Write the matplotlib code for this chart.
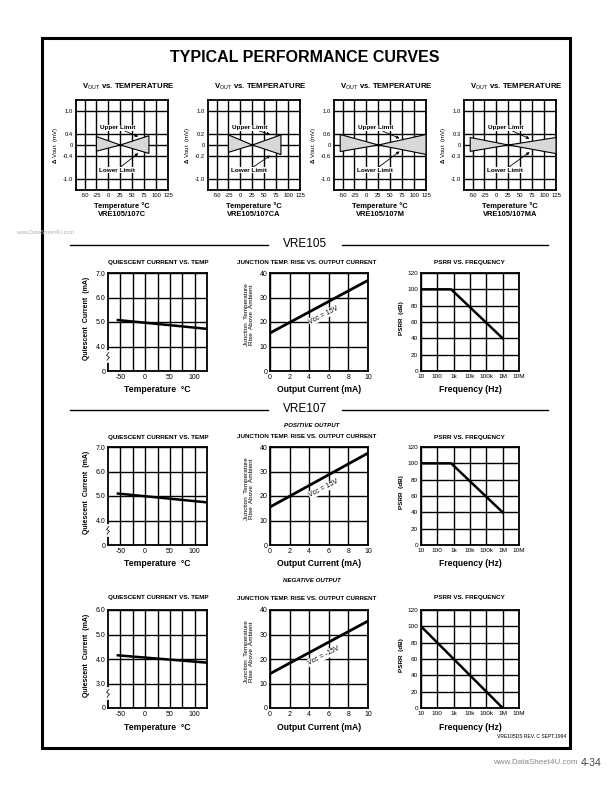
import matplotlib
matplotlib.use("Agg")
import matplotlib.pyplot as plt
from matplotlib.patches import Rectangle
import numpy as np

plt.rcParams['font.family'] = ['Liberation Sans', 'DejaVu Sans']
plt.rcParams['mathtext.fontset'] = 'custom'
plt.rcParams['mathtext.rm'] = 'Liberation Sans'
plt.rcParams['mathtext.bf'] = 'Liberation Sans:bold'
plt.rcParams['axes.unicode_minus'] = False

W, H = 612, 792

#
# data
#

# top row: Vout limit bands vs temperature (mV)
grades = ["VRE105/107C", "VRE105/107CA", "VRE105/107M", "VRE105/107MA"]
band_temp = [[-25, 25, 85], [-25, 25, 85], [-55, 25, 125], [-55, 25, 125]]
band_upper = [[0.30, 0.0, 0.33], [0.18, 0.0, 0.18], [0.56, 0.0, 0.56], [0.20, 0.0, 0.20]]
band_lower = [[-0.22, 0.0, -0.30], [-0.13, 0.0, -0.17], [-0.35, 0.0, -0.50], [-0.17, 0.0, -0.23]]
inner_tick = [0.4, 0.2, 0.6, 0.3]
temp_ticks = [-50, -25, 0, 25, 50, 75, 100, 125]

# quiescent current (mA) vs temperature
q_temp = [-55, 125]
q_105 = [5.08, 4.72]
q_107p = [5.10, 4.74]
q_107n = [4.15, 3.85]
q_ticks_pos = [4.0, 5.0, 6.0, 7.0]
q_ticks_neg = [3.0, 4.0, 5.0, 6.0]

# junction temp rise vs output current
i_out = [0, 10]
tj_105 = [15.5, 37.0]
tj_107p = [15.5, 37.5]
tj_107n = [14.0, 35.5]

# PSRR vs frequency
f_pos = [10, 700, 1e6]
psrr_pos = [100, 100, 40]
f_neg = [10, 1e6]
psrr_neg = [100, 0]
f_ticks = [10, 100, 1e3, 1e4, 1e5, 1e6, 1e7]
f_labels = ["10", "100", "1k", "10k", "100k", "1M", "10M"]

fig = plt.figure(figsize=(W/100, H/100), dpi=100)

def add_ax(x0, y0, x1, y1):
	return fig.add_axes([x0/W, 1-y1/H, (x1-x0)/W, (y1-y0)/H])

def ftext(x, y, s, **kw):
	kw.setdefault('ha', 'center')
	kw.setdefault('va', 'center')
	return fig.text(x/W, 1-y/H, s, **kw)

def style(ax, fs):
	for s in ax.spines.values():
		s.set_linewidth(1.3)
	ax.tick_params(which='both', length=0, pad=2, labelsize=fs)
	ax.grid(True, which='both', color='k', lw=1.0)

# border + title
fig.add_artist(Rectangle((42/W, 1-748/H), (570-42)/W, (748-38)/H, fill=False,
	lw=2.2, color='k', transform=fig.transFigure))
ftext(305, 58, "TYPICAL PERFORMANCE CURVES", fontsize=11.5, weight='bold')

#
# top row
#
top_x = [(76, 168), (208, 300), (334, 426), (464, 556)]
for k in range(4):
	x0, x1 = top_x[k]
	ax = add_ax(x0, 100, x1, 190)
	s = inner_tick[k]
	xp = [-1.4, -1.0, -s, 0, s, 1.0, 1.4]
	fp = [-4, -3, -1, 0, 1, 3, 4]
	ax.set_yscale('function', functions=(lambda v, xp=xp, fp=fp: np.interp(v, xp, fp),
		lambda v, xp=xp, fp=fp: np.interp(v, fp, xp)))
	ax.set_ylim(-1.4, 1.4)
	ax.set_xlim(-68, 125)
	ax.set_yticks([-1.0, -s, 0, s, 1.0])
	ax.set_yticklabels(["-1.0", "-%.1f" % s, "0", "%.1f" % s, "1.0"])
	ax.set_xticks(temp_ticks)
	ax.set_xticklabels([str(t) for t in temp_ticks])
	ax.minorticks_off()
	style(ax, 4.2)
	t, u, l = band_temp[k], band_upper[k], band_lower[k]
	px = [t[0], t[1], t[2], t[2], t[1], t[0]]
	py = [u[0], u[1], u[2], l[2], l[1], l[0]]
	ax.fill(px, py, facecolor='#d8d8d8', edgecolor='k', lw=0.8, zorder=3)
	# arrow tips on the limit lines, right side
	xt = 65 if k < 2 else 72
	yu = np.interp(xt, t[1:], u[1:])
	yl = np.interp(xt, t[1:], l[1:])
	ap = dict(arrowstyle='-|>', lw=0.6, color='k', mutation_scale=4, shrinkA=0, shrinkB=1)
	bb = dict(boxstyle='square,pad=0.1', fc='white', ec='none')
	ax.annotate("Upper Limit", xy=(xt, yu + 0.06), xytext=(0.45, 0.69), textcoords='axes fraction',
		fontsize=4.6, weight='bold', ha='center', va='center', arrowprops=ap, bbox=bb, zorder=5)
	ax.annotate("Lower Limit", xy=(xt, yl - 0.06), xytext=(0.44, 0.22), textcoords='axes fraction',
		fontsize=4.6, weight='bold', ha='center', va='center', arrowprops=ap, bbox=bb, zorder=5)
	cx = (x0 + x1)/2
	ftext(cx + 6, 87, r"V$_{\rm OUT}$ vs. TEMPERATURE", fontsize=5.6, weight='bold')
	ftext(cx, 206, "Temperature °C", fontsize=5.4, weight='bold')
	ftext(cx, 214, grades[k], fontsize=5.4, weight='bold')
	ftext(x0 - 21, 145, r"$\mathbf{\Delta}$ Vout  (mV)", fontsize=4.4, rotation=90)

# section separators
def section(y, label):
	fig.add_artist(plt.Line2D([70/W, 268/W], [1-y/H, 1-y/H], color='k', lw=1.0))
	fig.add_artist(plt.Line2D([342/W, 548/W], [1-y/H, 1-y/H], color='k', lw=1.0))
	ftext(305, y - 1, label, fontsize=8.5)

section(245, "VRE105")
section(410, "VRE107")
ftext(45, 232, "www.DataSheet4U.com", fontsize=4, color='#b0b0b0')

#
# lower rows
#
def quiescent(top, yvals, yticks, title_y):
	ax = add_ax(108, top, 207, top + 98)
	ax.set_xlim(-75, 125)
	ax.set_ylim(yticks[0] - 1, yticks[-1])
	ax.set_xticks([-50, 0, 50, 100])
	ax.set_xticks([-25, 25, 75], minor=True)
	ax.set_yticks([yticks[0] - 1] + yticks)
	ax.set_yticklabels(["0"] + ["%.1f" % v for v in yticks])
	style(ax, 5)
	ax.plot(q_temp, yvals, color='k', lw=1.8, zorder=4)
	# axis break mark
	ax.plot([0, 0], [0.1, 0.2], transform=ax.transAxes, color='white', lw=2, clip_on=False, zorder=6)
	ax.plot([-0.01, 0.015, -0.015, 0.01], [0.11, 0.14, 0.16, 0.19], transform=ax.transAxes,
		color='k', lw=0.5, clip_on=False, zorder=7)
	ftext(158, title_y, "QUIESCENT CURRENT VS. TEMP", fontsize=4.6, weight='bold')
	ftext(157, top + 117, "Temperature  °C", fontsize=6.2, weight='bold')
	ftext(87, top + 45, "Quiescent  Current  (mA)", fontsize=5, weight='bold', rotation=90)

def junction(top, yvals, label, title_y):
	ax = add_ax(270, top, 368, top + 98)
	ax.set_xlim(0, 10)
	ax.set_ylim(0, 40)
	ax.set_xticks([0, 2, 4, 6, 8, 10])
	ax.set_yticks([0, 10, 20, 30, 40])
	style(ax, 5)
	ax.plot(i_out, yvals, color='k', lw=2.0, zorder=4)
	ax.text(5.5, np.interp(5.5, i_out, yvals) - 4.5, label, fontsize=5, rotation=27,
		ha='center', va='center', zorder=5,
		bbox=dict(boxstyle='square,pad=0.1', fc='white', ec='none'))
	ftext(307, title_y, "JUNCTION TEMP. RISE VS. OUTPUT CURRENT", fontsize=4.5, weight='bold')
	ftext(319, top + 117, "Output Current (mA)", fontsize=6.2, weight='bold')
	ftext(249, top + 42, "Junction  Temperature\nRise  Above  Ambient", fontsize=4.6,
		rotation=90, linespacing=1.0)

def psrr(top, fx, yvals, title_y):
	ax = add_ax(421, top, 519, top + 98)
	ax.set_xscale('log')
	ax.set_xlim(10, 1e7)
	ax.set_ylim(0, 120)
	ax.set_xticks(f_ticks)
	ax.set_xticklabels(f_labels)
	ax.minorticks_off()
	ax.set_yticks([0, 20, 40, 60, 80, 100, 120])
	style(ax, 4.6)
	ax.plot(fx, yvals, color='k', lw=1.8, zorder=4)
	ftext(469, title_y, "PSRR VS. FREQUENCY", fontsize=4.6, weight='bold')
	ftext(470, top + 117, "Frequency (Hz)", fontsize=6.2, weight='bold')
	ftext(402, top + 45, "PSRR  (dB)", fontsize=4.6, weight='bold', rotation=90)

quiescent(273, q_105, q_ticks_pos, 262)
junction(273, tj_105, "Vcc = 15V", 262)
psrr(273, f_pos, psrr_pos, 262)

ftext(312, 425, "POSITIVE OUTPUT", fontsize=4.4, weight='bold', style='italic')
quiescent(447, q_107p, q_ticks_pos, 437)
junction(447, tj_107p, "Vcc = 15V", 437)
psrr(447, f_pos, psrr_pos, 437)

ftext(312, 581, "NEGATIVE OUTPUT", fontsize=4.4, weight='bold', style='italic')
quiescent(610, q_107n, q_ticks_neg, 598)
junction(610, tj_107n, "Vcc = -15V", 598)
psrr(610, f_neg, psrr_neg, 598)

# footer
ftext(566, 737, "VRE105DS REV. C SEPT.1994", fontsize=3.6, ha='right')
ftext(578, 762, "www.DataSheet4U.com", fontsize=5.8, color='#888888', ha='right')
ftext(581, 763, "4-34", fontsize=7.5, color='#444444', ha='left')

fig.savefig("out.png", dpi=100)
